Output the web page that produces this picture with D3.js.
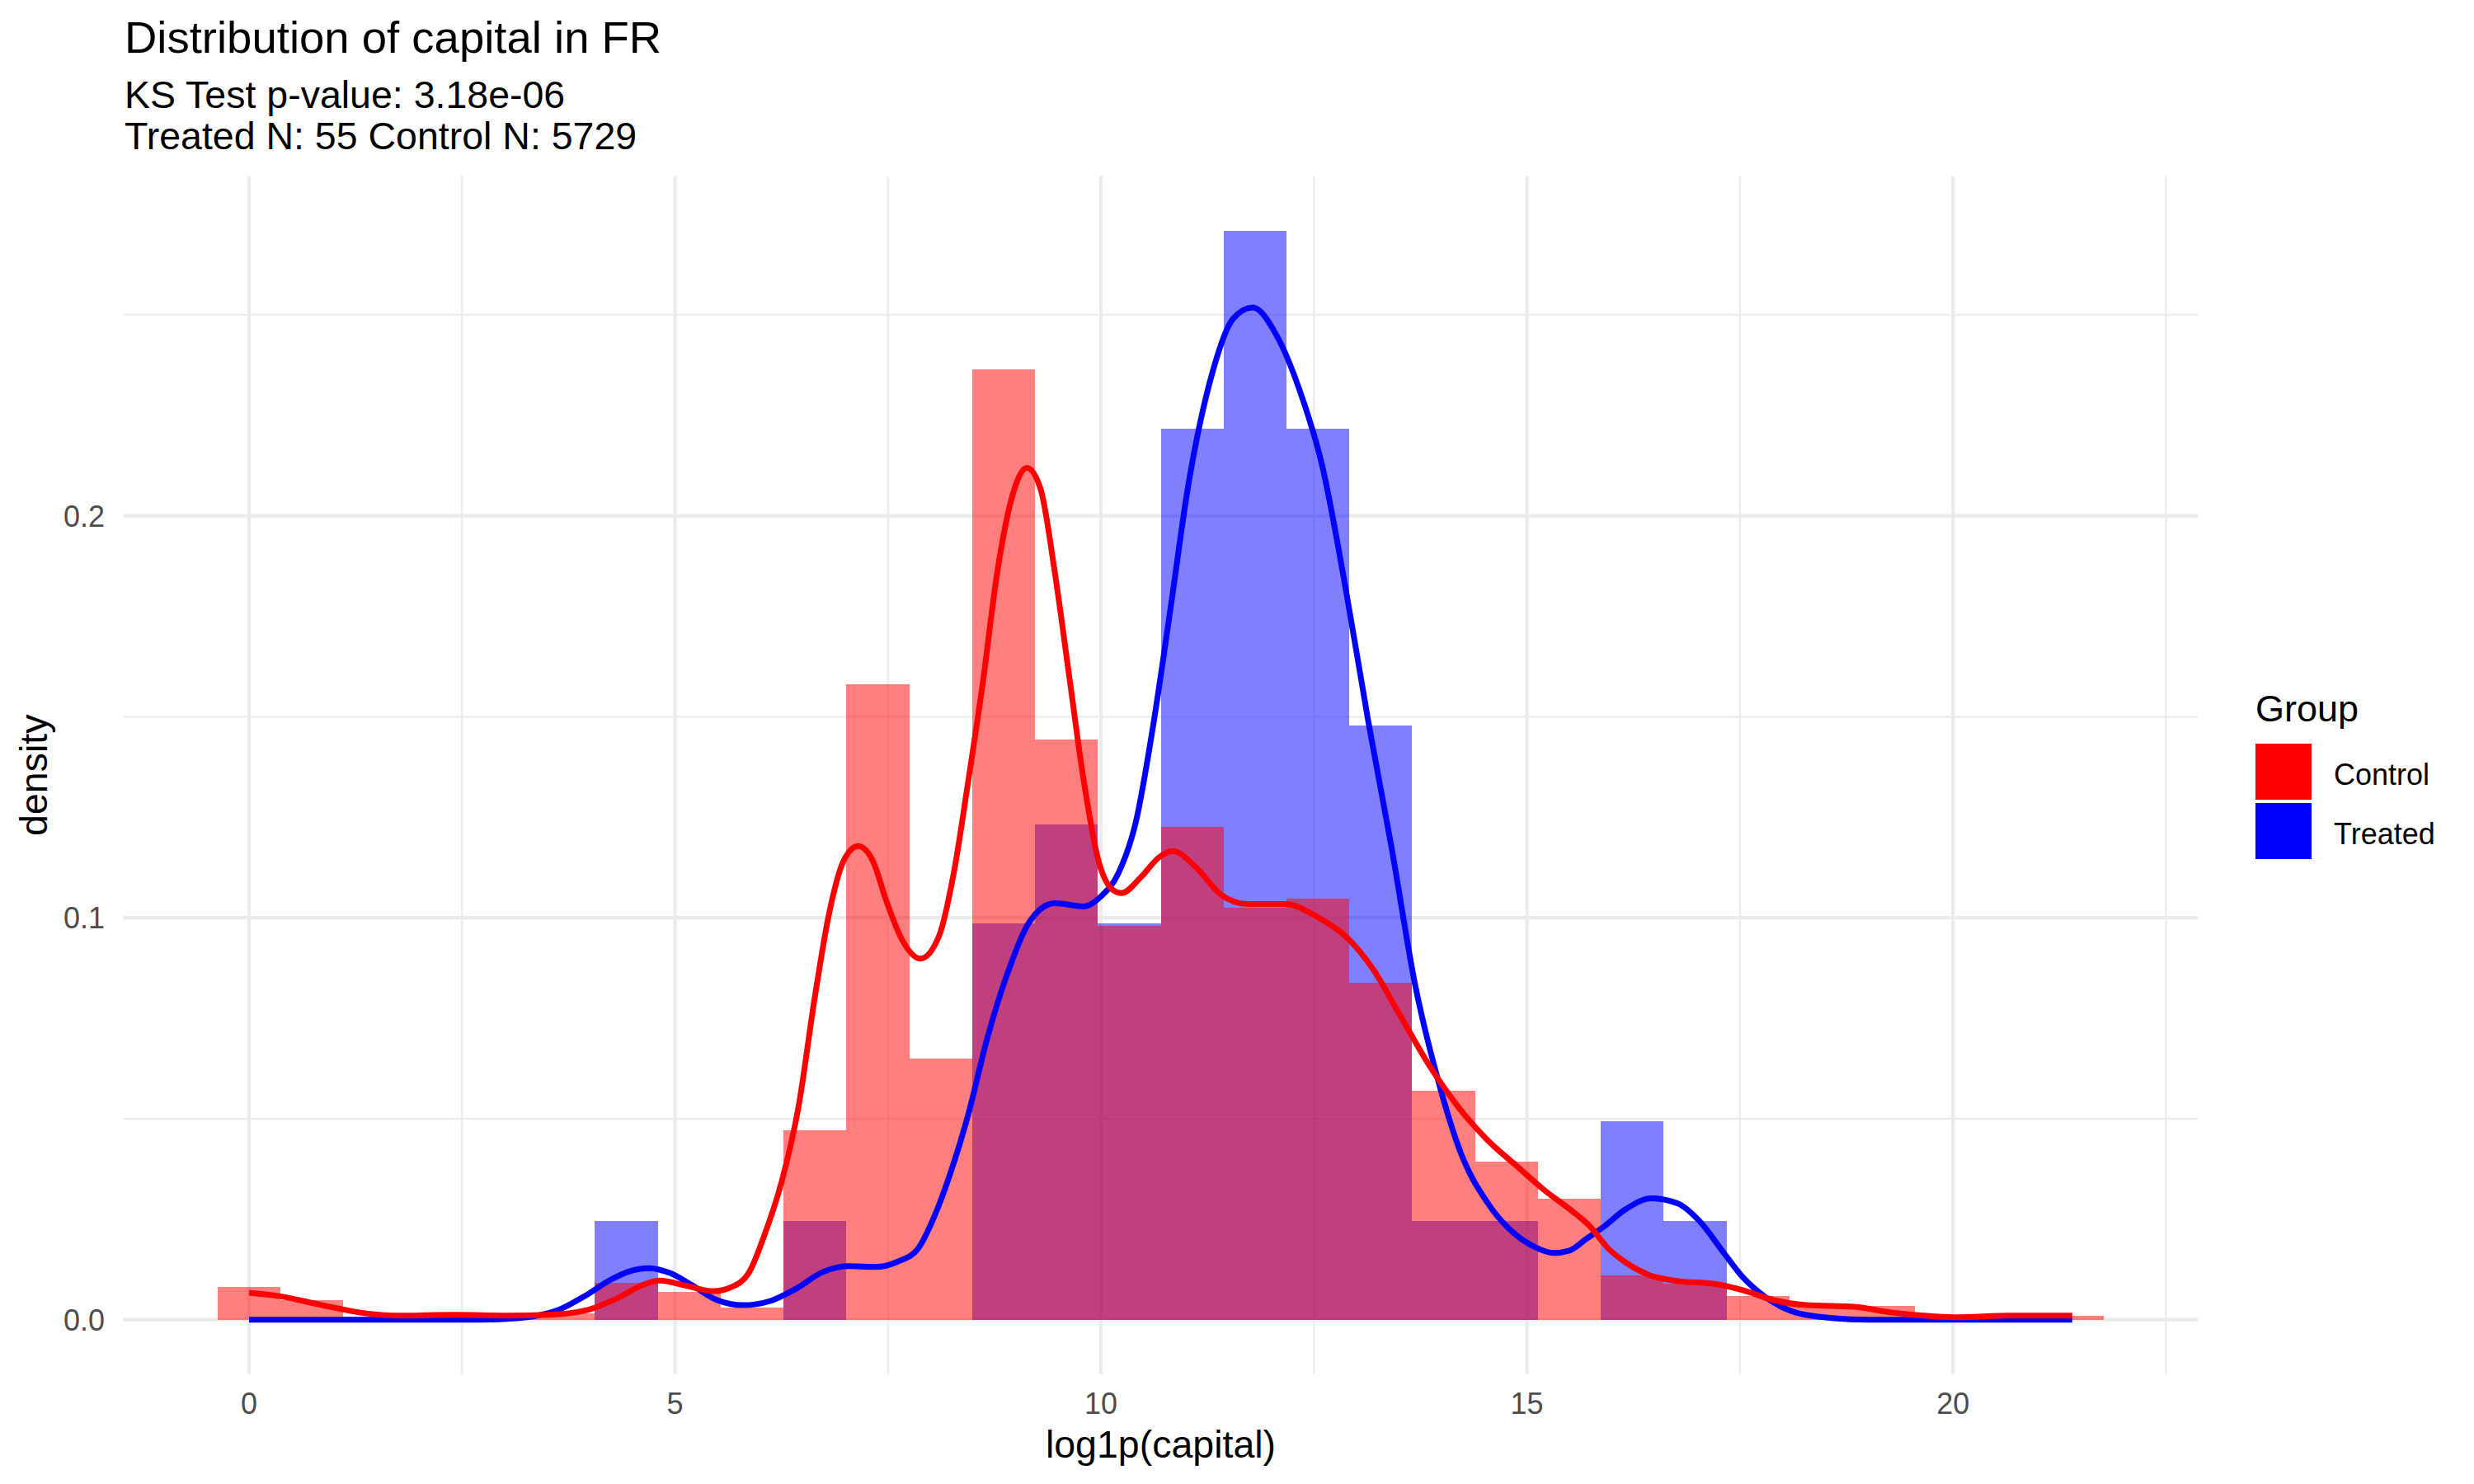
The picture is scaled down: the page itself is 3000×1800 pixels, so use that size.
<!DOCTYPE html>
<html>
<head>
<meta charset="utf-8">
<script src="https://cdn.jsdelivr.net/npm/d3@7"></script>
<style>
  html, body { margin: 0; padding: 0; background: #ffffff; }
  svg { display: block; }
  text { font-family: "Liberation Sans", Arial, sans-serif; }
</style>
</head>
<body>
<svg id="chart" width="3000" height="1800"></svg>
<script>
// ---------------- data ----------------
const groups = ["Control", "Treated"];
const groupColors = ["#FF0000", "#0000FF"];
const binWidth = 0.738;
const binCenters = [0, 0.738, 1.476, 2.214, 2.952, 3.690, 4.428, 5.166, 5.904, 6.642,
  7.380, 8.118, 8.856, 9.594, 10.332, 11.070, 11.808, 12.546, 13.284, 14.022,
  14.760, 15.498, 16.236, 16.974, 17.712, 18.450, 19.188, 19.926, 20.664, 21.402];
const controlHist = [0.0081, 0.0049, 0.0008, 0.0008, 0.0008, 0.0015, 0.0092, 0.0069, 0.0030, 0.0472,
  0.1580, 0.0650, 0.2365, 0.1444, 0.0980, 0.1226, 0.1025, 0.1048, 0.0839, 0.0570,
  0.0393, 0.0301, 0.0110, 0.0090, 0.0059, 0.0036, 0.0034, 0.0008, 0.0010, 0.0010];
const treatedHist = [0, 0, 0, 0, 0, 0, 0.0246, 0, 0, 0.0246,
  0, 0, 0.0985, 0.1231, 0.0985, 0.2217, 0.2709, 0.2217, 0.1478, 0.0246,
  0.0246, 0, 0.0493, 0.0246, 0, 0, 0, 0, 0, 0];

const controlCurveX = [0.00, 0.37, 0.86, 1.36, 1.79, 2.41, 3.03, 3.52, 3.95, 4.32, 4.63, 4.82, 5.12, 5.45, 5.65,
  5.87, 6.04, 6.25, 6.45, 6.64, 6.81, 6.98, 7.15, 7.32, 7.49, 7.66, 7.88, 8.10, 8.27, 8.44, 8.61, 8.78,
  8.95, 9.13, 9.29, 9.46, 9.63, 9.80, 9.97, 10.14, 10.24, 10.47, 10.68, 10.84, 11.12, 11.41, 11.72,
  12.16, 12.53, 12.90, 13.18, 13.51, 13.86, 14.19, 14.53, 14.87, 15.21, 15.50, 15.73, 15.95, 16.16,
  16.42, 16.77, 17.20, 17.54, 17.89, 18.28, 18.84, 19.27, 19.79, 20.05, 20.66, 21.40];
const controlCurveY = [0.0067, 0.0058, 0.0036, 0.0016, 0.0010, 0.0012, 0.0010, 0.0012, 0.0023, 0.0053, 0.0087, 0.0097, 0.0085, 0.0071, 0.0080,
  0.0118, 0.0205, 0.0342, 0.0530, 0.0801, 0.1012, 0.1142, 0.1178, 0.1142, 0.1036, 0.0947, 0.0898, 0.0955, 0.1109, 0.1337, 0.1580, 0.1856,
  0.2042, 0.2119, 0.2067, 0.1856, 0.1596, 0.1337, 0.1142, 0.1069, 0.1061, 0.1101, 0.1150, 0.1166, 0.1124, 0.1057, 0.1034,
  0.1034, 0.1003, 0.0948, 0.0876, 0.0757, 0.0630, 0.0530, 0.0448, 0.0384, 0.0321, 0.0275, 0.0234, 0.0178, 0.0142,
  0.0112, 0.0096, 0.0089, 0.0073, 0.0049, 0.0036, 0.0032, 0.0018, 0.0008, 0.0006, 0.0010, 0.0010];

const treatedCurveX = [0.00, 2.70, 3.03, 3.33, 3.64, 3.95, 4.26, 4.45, 4.69, 4.94, 5.19, 5.49, 5.80, 6.11, 6.42,
  6.73, 7.04, 7.35, 7.62, 7.85, 8.05, 8.23, 8.44, 8.67, 8.91, 9.18, 9.46, 9.80, 10.00, 10.20, 10.41,
  10.61, 10.82, 11.02, 11.31, 11.55, 11.78, 12.06, 12.33, 12.60, 12.87, 13.14, 13.41, 13.69, 13.96,
  14.23, 14.53, 14.87, 15.10, 15.31, 15.50, 15.69, 15.90, 16.16, 16.46, 16.77, 17.03, 17.29, 17.54,
  17.80, 18.15, 18.58, 19.00, 21.40];
const treatedCurveY = [0.0000, 0.0000, 0.0002, 0.0008, 0.0025, 0.0060, 0.0101, 0.0119, 0.0128, 0.0116, 0.0087, 0.0049, 0.0036, 0.0046, 0.0077,
  0.0118, 0.0133, 0.0131, 0.0145, 0.0176, 0.0260, 0.0363, 0.0509, 0.0704, 0.0866, 0.0996, 0.1036, 0.1028, 0.1053, 0.1109, 0.1239,
  0.1475, 0.1775, 0.2070, 0.2358, 0.2490, 0.2518, 0.2449, 0.2313, 0.2121, 0.1821, 0.1485, 0.1175, 0.0830, 0.0593,
  0.0411, 0.0293, 0.0211, 0.0180, 0.0166, 0.0172, 0.0200, 0.0231, 0.0275, 0.0302, 0.0289, 0.0244, 0.0172, 0.0104,
  0.0056, 0.0018, 0.0004, 0.0000, 0.0000];

const xTicks = [0, 5, 10, 15, 20];
const xMinor = [2.5, 7.5, 12.5, 17.5, 22.5];
const yTicks = [0, 0.1, 0.2];
const yTickLabels = ["0.0", "0.1", "0.2"];
const yMinor = [0.05, 0.15, 0.25];

const titleText = "Distribution of capital in FR";
const subtitleLines = ["KS Test p-value: 3.18e-06", "Treated N: 55 Control N: 5729"];
const xTitle = "log1p(capital)";
const yTitle = "density";
const legendTitle = "Group";

// ---------------- layout ----------------
const panel = { left: 149.5, right: 2665.5, top: 213.8, bottom: 1666.7 };
const svg = d3.select("#chart");

const xLo = d3.min(binCenters) - binWidth / 2;
const xHi = d3.max(binCenters) + binWidth / 2;
const xPad = (xHi - xLo) * 0.05;
const yHi = d3.max([d3.max(controlHist), d3.max(treatedHist), d3.max(controlCurveY), d3.max(treatedCurveY)]);
const yPad = yHi * 0.05;

const x = d3.scaleLinear().domain([xLo - xPad, xHi + xPad]).range([panel.left, panel.right]);
const y = d3.scaleLinear().domain([0 - yPad, yHi + yPad]).range([panel.bottom, panel.top]);

// grid
const grid = svg.append("g");
grid.selectAll("line.xminor").data(xMinor).join("line")
  .attr("x1", d => x(d)).attr("x2", d => x(d)).attr("y1", panel.top).attr("y2", panel.bottom)
  .attr("stroke", "#EBEBEB").attr("stroke-width", 2.2);
grid.selectAll("line.yminor").data(yMinor).join("line")
  .attr("y1", d => y(d)).attr("y2", d => y(d)).attr("x1", panel.left).attr("x2", panel.right)
  .attr("stroke", "#EBEBEB").attr("stroke-width", 2.2);
grid.selectAll("line.xmajor").data(xTicks).join("line")
  .attr("x1", d => x(d)).attr("x2", d => x(d)).attr("y1", panel.top).attr("y2", panel.bottom)
  .attr("stroke", "#EBEBEB").attr("stroke-width", 4.2);
grid.selectAll("line.ymajor").data(yTicks).join("line")
  .attr("y1", d => y(d)).attr("y2", d => y(d)).attr("x1", panel.left).attr("x2", panel.right)
  .attr("stroke", "#EBEBEB").attr("stroke-width", 4.2);

// histograms (treated first, control on top)
function drawBars(vals, color) {
  const data = binCenters.map((c, i) => ({ c, v: vals[i] })).filter(d => d.v > 0);
  svg.append("g").selectAll("rect").data(data).join("rect")
    .attr("x", d => x(d.c - binWidth / 2))
    .attr("width", d => x(d.c + binWidth / 2) - x(d.c - binWidth / 2))
    .attr("y", d => y(d.v))
    .attr("height", d => y(0) - y(d.v))
    .attr("fill", color)
    .attr("fill-opacity", 0.5)
    .attr("shape-rendering", "crispEdges");
}
drawBars(treatedHist, groupColors[1]);
drawBars(controlHist, groupColors[0]);

// density lines
const line = d3.line().x(d => x(d[0])).y(d => y(d[1])).curve(d3.curveMonotoneX);
function drawCurve(xs, ys, color) {
  svg.append("path").datum(xs.map((v, i) => [v, ys[i]]))
    .attr("d", line).attr("fill", "none").attr("stroke", color)
    .attr("stroke-width", 7).attr("stroke-linejoin", "round").attr("stroke-linecap", "butt");
}
drawCurve(treatedCurveX, treatedCurveY, groupColors[1]);
drawCurve(controlCurveX, controlCurveY, groupColors[0]);

// axes labels
svg.append("g").selectAll("text").data(xTicks).join("text")
  .attr("x", d => x(d)).attr("y", 1715).attr("text-anchor", "middle")
  .attr("font-size", 36).attr("fill", "#4D4D4D").text(d => d);
svg.append("g").selectAll("text").data(yTicks).join("text")
  .attr("x", 127).attr("y", d => y(d) + 13).attr("text-anchor", "end")
  .attr("font-size", 36).attr("fill", "#4D4D4D").text((d, i) => yTickLabels[i]);

svg.append("text").attr("x", (panel.left + panel.right) / 2).attr("y", 1768)
  .attr("text-anchor", "middle").attr("font-size", 46.5).attr("fill", "#000").text(xTitle);
svg.append("text").attr("transform", `translate(57,${(panel.top + panel.bottom) / 2}) rotate(-90)`)
  .attr("text-anchor", "middle").attr("font-size", 46.5).attr("fill", "#000").text(yTitle);

// title & subtitle
svg.append("text").attr("x", 151).attr("y", 64).attr("font-size", 54.5).attr("fill", "#000").text(titleText);
svg.append("g").selectAll("text").data(subtitleLines).join("text")
  .attr("x", 151).attr("y", (d, i) => 131 + i * 50).attr("font-size", 46.5).attr("fill", "#000").text(d => d);

// legend
const lg = svg.append("g");
lg.append("text").attr("x", 2735).attr("y", 875).attr("font-size", 45).attr("fill", "#000").text(legendTitle);
const keys = lg.selectAll("g.key").data(groups).join("g").attr("class", "key");
keys.append("rect").attr("x", 2735).attr("y", (d, i) => 902 + i * 72)
  .attr("width", 68).attr("height", 68).attr("fill", (d, i) => groupColors[i]);
keys.append("text").attr("x", 2830).attr("y", (d, i) => 952 + i * 71.5)
  .attr("font-size", 36).attr("fill", "#000").text(d => d);
</script>
</body>
</html>
